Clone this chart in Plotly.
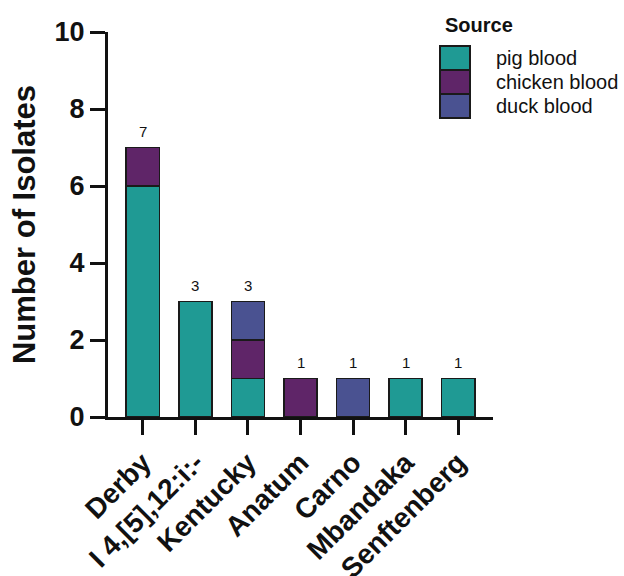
import plotly.graph_objects as go

categories = ["Derby", "I 4,[5],12:i:-", "Kentucky", "Anatum", "Carno", "Mbandaka", "Senftenberg"]
pig_blood = [6, 3, 1, 0, 0, 1, 1]
chicken_blood = [1, 0, 1, 1, 0, 0, 0]
duck_blood = [0, 0, 1, 0, 1, 0, 0]
series_names = ["pig blood", "chicken blood", "duck blood"]
series_colors = ["#1f9a94", "#5f2568", "#4a5291"]
y_ticks = [0, 2, 4, 6, 8, 10]

series_values = [pig_blood, chicken_blood, duck_blood]
totals = [sum(v) for v in zip(*series_values)]

FONT = "Liberation Sans, Arial"

fig = go.Figure()
for name, vals, col in zip(series_names, series_values, series_colors):
    fig.add_trace(go.Bar(
        x=categories, y=vals, name=name,
        marker=dict(color=col, line=dict(color="#1a1a1a", width=1.8)),
        showlegend=False,
    ))

for c, t in zip(categories, totals):
    fig.add_annotation(x=c, y=t, text=str(t), showarrow=False,
                       yanchor="bottom", yshift=6,
                       font=dict(family=FONT, size=15, color="#111"))

# custom legend
fig.add_annotation(xref="paper", yref="paper", x=(443 - 108) / 385, y=(417 - 25) / 385,
                   text="<b>Source</b>", showarrow=False, xanchor="left", yanchor="middle",
                   font=dict(family=FONT, size=20, color="#111"))
top_px = 46
h_px = 24
for i, (name, col) in enumerate(zip(series_names, series_colors)):
    y0 = 417 - (top_px + (i + 1) * h_px)
    y1 = 417 - (top_px + i * h_px)
    fig.add_shape(type="rect", xref="paper", yref="paper",
                  x0=(440 - 108) / 385, x1=(470 - 108) / 385,
                  y0=y0 / 385, y1=y1 / 385,
                  fillcolor=col, line=dict(color="#1a1a1a", width=2))
    fig.add_annotation(xref="paper", yref="paper", x=(494 - 108) / 385,
                       y=(y0 + y1) / 2 / 385, text=name, showarrow=False,
                       xanchor="left", yanchor="middle",
                       font=dict(family=FONT, size=20, color="#111"))

fig.update_layout(
    barmode="stack",
    bargap=0.37,
    width=624, height=576,
    margin=dict(l=108, r=131, t=32, b=159),
    plot_bgcolor="white", paper_bgcolor="white",
    font=dict(family=FONT, color="#111"),
)
fig.update_xaxes(
    range=[-0.665, 6.665], showline=True, linecolor="#111", linewidth=3,
    ticks="outside", ticklen=15, tickwidth=3, tickcolor="#111",
    tickangle=-45, tickfont=dict(size=28, family=FONT, weight="bold"),
    showgrid=False, zeroline=False, automargin=False,
)
fig.update_yaxes(
    range=[0, 10], tickvals=y_ticks, showline=True, linecolor="#111", linewidth=3,
    ticks="outside", ticklen=15, tickwidth=3, tickcolor="#111",
    tickfont=dict(size=27, family=FONT, weight="bold"),
    title=dict(text="Number of Isolates", font=dict(size=31, family=FONT, weight="bold"), standoff=10),
    showgrid=False, zeroline=False, automargin=False,
)

fig.write_html("out.html")
